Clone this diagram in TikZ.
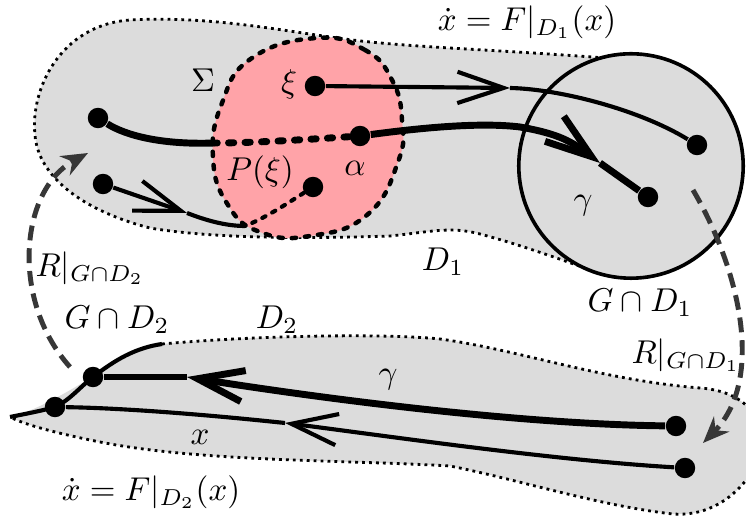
\documentclass[tikz,border=0pt]{standalone}
\usetikzlibrary{arrows.meta}

\definecolor{regiongray}{RGB}{220,220,220}
\definecolor{sigmapink}{RGB}{255,163,168}
\definecolor{mapgray}{RGB}{55,55,55}

\begin{document}
\begin{tikzpicture}[
    x=0.303pt, y=-0.303pt, % pixel-like units, y pointing down
    chev/.tip={Straight Barb[length=14pt, width=9.5pt]}, % flow direction marks
    dot/.style={circle, fill, inner sep=0pt, minimum size=6.2pt},
    traj/.style={line width=1.25pt},
    thicktraj/.style={line width=2.1pt},
    flowdash/.style={dash pattern=on 1.6pt off 3.4pt, line cap=round},
    regionline/.style={line width=0.85pt, dash pattern=on 0.85pt off 1.25pt},
    sigmaline/.style={line width=1.35pt, dash pattern=on 1.3pt off 2.7pt, line cap=round},
    mapline/.style={mapgray, line width=1.5pt, dash pattern=on 4.5pt off 2.4pt,
        -{Stealth[length=8pt, width=6.5pt]}},
    lbl/.style={inner sep=1pt}
]
\useasboundingbox (0,0) rectangle (746,518);

% Region D_1
\path[fill=regiongray] (605,58) .. controls (500,50) and (430,48) .. (370,42)
    .. controls (300,35) and (220,15) .. (130,20) .. controls (60,25) and (30,90) .. (35,135)
    .. controls (38,175) and (80,210) .. (150,228) .. controls (220,240) and (330,238) .. (390,236)
    .. controls (430,232) and (450,226) .. (480,234) .. controls (510,242) and (540,252) .. (585,268)
    -- (630,166) -- cycle;
\draw[regionline] (605,58) .. controls (500,50) and (430,48) .. (370,42)
    .. controls (300,35) and (220,15) .. (130,20) .. controls (60,25) and (30,90) .. (35,135)
    .. controls (38,175) and (80,210) .. (150,228) .. controls (220,240) and (330,238) .. (390,236)
    .. controls (430,232) and (450,226) .. (480,234) .. controls (510,242) and (540,252) .. (585,268);

% Region D_2
\coordinate (d2w) at (10,417);
\coordinate (d2n) at (162,344);
\path[fill=regiongray] (d2n) .. controls (250,336) and (380,333) .. (440,339)
    .. controls (520,350) and (600,380) .. (700,388) .. controls (760,392) and (775,440) .. (752,472)
    .. controls (730,505) and (700,516) .. (673,514) .. controls (600,506) and (520,480) .. (450,466)
    .. controls (350,460) and (200,462) .. (100,442) .. controls (60,434) and (25,425) .. (d2w)
    .. controls (60,405) and (120,352) .. (d2n) -- cycle;
\draw[regionline] (d2n) .. controls (250,336) and (380,333) .. (440,339)
    .. controls (520,350) and (600,380) .. (700,388) .. controls (760,392) and (775,440) .. (752,472)
    .. controls (730,505) and (700,516) .. (673,514) .. controls (600,506) and (520,480) .. (450,466)
    .. controls (350,460) and (200,462) .. (100,442) .. controls (60,434) and (25,425) .. (d2w);

% Section Sigma
\draw[sigmaline, fill=sigmapink] plot[smooth cycle, tension=0.8] coordinates {
    (317,38) (365,50) (392,80) (402,120) (398,162) (367,215) (310,236)
    (260,232) (228,205) (213,158) (222,103) (252,58)};

% G cap D_1
\node[circle, draw, line width=1.1pt, fill=regiongray, minimum size=68pt] (gd1) at (631,166) {};

% Points
\node[dot] (xi) at (315,86) {};
\node[dot] (alpha) at (360,136) {};
\node[dot] (px) at (313,187) {};
\node[dot] (ql) at (98,118) {};
\node[dot] (pl) at (103,184) {};
\node[dot] (gxi) at (697,145) {};
\node[dot] (ga) at (648,197) {};
\node[dot] (gr) at (676,426) {};
\node[dot] (xr) at (685,468) {};
\node[dot] (gl) at (93,377) {};
\node[dot] (xl) at (55,407) {};

\coordinate (sa) at (215,143);
\coordinate (sb) at (245,226);
\coordinate (xiarr) at (510,88);
\coordinate (aarr) at (600,163);
\coordinate (pxarr) at (187,213);
\coordinate (garr) at (187,377);
\coordinate (xarr) at (285,423);

% Orbits in D_1
\draw[traj, -chev] (xi) -- (xiarr);
\draw[traj] (xiarr) .. controls (560,89) and (640,110) .. (gxi);
\draw[thicktraj, -chev] (alpha) .. controls (420,128) and (480,122) .. (520,127)
    .. controls (560,134) and (572,142) .. (aarr);
\draw[thicktraj] (aarr) -- (ga);
\draw[thicktraj, flowdash] (alpha) .. controls (300,140) and (250,143) .. (sa);
\draw[thicktraj] (sa) .. controls (160,145) and (125,135) .. (ql);
\draw[traj, -chev] (pl) -- (pxarr);
\draw[traj] (pxarr) .. controls (205,220) and (225,226) .. (sb);
\draw[traj, dash pattern=on 1.1pt off 2.3pt, line cap=round] (px) .. controls (285,205) and (265,218) .. (sb);

% Orbits in D_2
\draw[traj] (d2w) .. controls (30,413) and (45,410) .. (xl.center)
    .. controls (70,400) and (80,387) .. (gl.center) .. controls (115,360) and (135,348) .. (d2n);
\draw[thicktraj, -chev] (gr) .. controls (500,424) and (280,392) .. (garr);
\draw[line width=1.6pt] (garr) -- (gl);
\draw[traj, -chev] (xr) .. controls (550,460) and (380,435) .. (xarr);
\draw[traj] (xarr) .. controls (200,414) and (120,408) .. (xl);

% Return maps
\coordinate (r1s) at (693,190);
\coordinate (r1e) at (703,443);
\coordinate (r2s) at (70,367);
\coordinate (r2e) at (88,153);
\draw[mapline] (r1s) .. controls (740,270) and (765,380) .. (r1e);
\draw[mapline] (r2s) .. controls (10,300) and (20,190) .. (r2e);

% Labels
\node[lbl] (sigmalbl) at (203,80) {$\Sigma$};
\node[lbl] (xilbl) at (289,84) {$\xi$};
\node[lbl] (pxlbl) at (260,172) {$P(\xi)$};
\node[lbl] (alphalbl) at (355,168) {$\alpha$};
\node[lbl] (f1lbl) at (527,22) {$\dot x = F|_{D_1}(x)$};
\node[lbl] (g1lbl) at (583,206) {$\gamma$};
\node[lbl] (d1lbl) at (443,262) {$D_1$};
\node[lbl] (gd1lbl) at (640,303) {$G\cap D_1$};
\node[lbl] (r1lbl) at (686,355) {$R|_{G\cap D_1}$};
\node[lbl] (r2lbl) at (90,268) {$R|_{G\cap D_2}$};
\node[lbl] (gd2lbl) at (117,320) {$G\cap D_2$};
\node[lbl] (d2lbl) at (277,320) {$D_2$};
\node[lbl] (g2lbl) at (388,380) {$\gamma$};
\node[lbl] (xlbl) at (200,437) {$x$};
\node[lbl] (f2lbl) at (151,492) {$\dot x = F|_{D_2}(x)$};
\end{tikzpicture}
\end{document}
